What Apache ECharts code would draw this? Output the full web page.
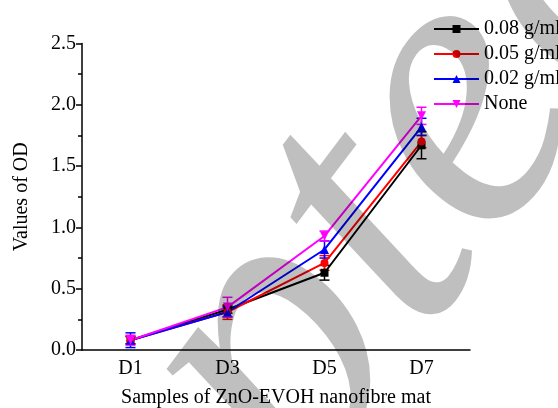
<!DOCTYPE html>
<html>
<head>
<meta charset="utf-8">
<script src="https://cdn.jsdelivr.net/npm/echarts@6/dist/echarts.min.js"></script>
<style>
  html, body { margin: 0; padding: 0; background: #fff; }
  #chart { width: 558px; height: 408px; }
</style>
</head>
<body>
<div id="chart"></div>
<script>
// Sampling days
const categories = ['D1', 'D3', 'D5', 'D7'];

// Mean OD per ZnO concentration
const od008 = [0.08, 0.33, 0.63, 1.67];
const od005 = [0.08, 0.31, 0.71, 1.70];
const od002 = [0.08, 0.31, 0.82, 1.82];
const odNone = [0.08, 0.35, 0.93, 1.91];

// Standard deviations
const sd008 = [0.03, 0.03, 0.06, 0.11];
const sd005 = [0.03, 0.06, 0.06, 0.05];
const sd002 = [0.06, 0.04, 0.07, 0.07];
const sdNone = [0.04, 0.08, 0.04, 0.07];

const yTicks = [0, 0.5, 1.0, 1.5, 2.0, 2.5];

const serif = 'Liberation Serif';

const groups = [
  { name: '0.08 g/ml', color: '#000000', symbol: 'rect', rotate: 0, size: 8, mean: od008, sd: sd008 },
  { name: '0.05 g/ml', color: '#ff0000', symbol: 'circle', rotate: 0, size: 8, mean: od005, sd: sd005 },
  { name: '0.02 g/ml', color: '#0000ff', symbol: 'triangle', rotate: 0, size: 9, mean: od002, sd: sd002 },
  { name: 'None', color: '#ff00ff', symbol: 'triangle', rotate: 180, size: 9, mean: odNone, sd: sdNone }
];

function errorBarSeries(g) {
  return {
    type: 'custom',
    name: g.name + ' (SD)',
    z: 3,
    data: g.mean.map((m, i) => [i, m - g.sd[i], m + g.sd[i]]),
    renderItem: function (params, api) {
      const lo = api.coord([api.value(0), api.value(1)]);
      const hi = api.coord([api.value(0), api.value(2)]);
      const half = 5;
      const style = { stroke: g.color, lineWidth: 1.5 };
      return {
        type: 'group',
        children: [
          { type: 'line', shape: { x1: lo[0], y1: lo[1], x2: hi[0], y2: hi[1] }, style: style },
          { type: 'line', shape: { x1: lo[0] - half, y1: lo[1], x2: lo[0] + half, y2: lo[1] }, style: style },
          { type: 'line', shape: { x1: hi[0] - half, y1: hi[1], x2: hi[0] + half, y2: hi[1] }, style: style }
        ]
      };
    },
    silent: true
  };
}

const series = [];
groups.forEach(g => {
  series.push(errorBarSeries(g));
  series.push({
    type: 'line',
    name: g.name,
    data: g.mean,
    z: 4,
    color: g.color,
    symbol: g.symbol,
    symbolSize: g.size,
    symbolRotate: g.rotate,
    showAllSymbol: true,
    lineStyle: { width: 2, color: g.color },
    itemStyle: { color: g.color }
  });
});

// Diagonal "Accepted" stamp, split at the p/t join so the word is anchored there
const stampAngle = 53 * Math.PI / 180;
const stampAnchor = [336, 276];
const stampFont = 'italic 405px Liberation Serif';
const stampFill = 'rgba(0,0,0,0.25)';

const chart = echarts.init(document.getElementById('chart'), null, { renderer: 'canvas' });
chart.setOption({
  animation: false,
  backgroundColor: '#ffffff',
  grid: { left: 82, right: 88, top: 43.5, bottom: 58, containLabel: false, outerBoundsMode: 'none' },
  legend: {
    orient: 'vertical',
    left: 428,
    top: 14,
    itemWidth: 45,
    itemHeight: 10,
    itemGap: 5,
    textStyle: { fontFamily: serif, fontSize: 20, color: '#000', lineHeight: 20 },
    data: groups.map(g => g.name),
    selectedMode: false
  },
  xAxis: {
    type: 'category',
    data: categories,
    boundaryGap: true,
    name: 'Samples of ZnO-EVOH nanofibre mat',
    nameLocation: 'middle',
    nameGap: 38,
    nameTextStyle: { fontFamily: serif, fontSize: 20, color: '#000' },
    axisLine: { lineStyle: { color: '#000', width: 1.5 } },
    axisTick: { alignWithLabel: true, length: 5, inside: false, lineStyle: { color: '#000', width: 1.5 } },
    axisLabel: { fontFamily: serif, fontSize: 20, color: '#000', margin: 9 },
    splitLine: { show: false }
  },
  yAxis: {
    type: 'value',
    min: 0,
    max: 2.5,
    interval: 0.5,
    name: 'Values of OD',
    nameLocation: 'middle',
    nameGap: 50,
    nameTextStyle: { fontFamily: serif, fontSize: 20, color: '#000' },
    axisLine: { show: true, lineStyle: { color: '#000', width: 1.5 } },
    axisTick: { show: true, length: 6, lineStyle: { color: '#000', width: 1.5 } },
    minorTick: { show: true, splitNumber: 2, length: 4, lineStyle: { color: '#000', width: 1.5 } },
    axisLabel: {
      fontFamily: serif, fontSize: 20, color: '#000', margin: 6,
      formatter: v => (yTicks.includes(v) ? v.toFixed(1) : '')
    },
    splitLine: { show: false }
  },
  series: series,
  graphic: [
    {
      type: 'text', z: 100, silent: true,
      x: stampAnchor[0], y: stampAnchor[1], rotation: stampAngle,
      style: { text: 'Accep', font: stampFont, fill: stampFill, align: 'right', verticalAlign: 'middle' }
    },
    {
      type: 'text', z: 100, silent: true,
      x: stampAnchor[0], y: stampAnchor[1], rotation: stampAngle,
      style: { text: 'ted', font: stampFont, fill: stampFill, align: 'left', verticalAlign: 'middle' }
    }
  ]
});
</script>
</body>
</html>
